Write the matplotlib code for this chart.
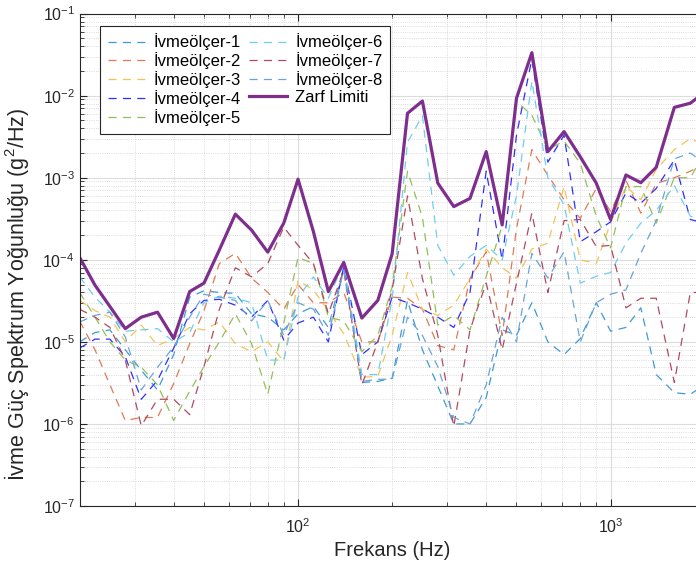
import matplotlib.pyplot as plt
from matplotlib.ticker import LogLocator, NullFormatter

# 1/6 octave frequency points (Hz)
freqs = [20, 22.4, 25, 28, 31.5, 35.5, 40, 45, 50, 56, 63, 71, 80, 90, 100,
         112, 125, 140, 160, 180, 200, 224, 250, 280, 315, 355, 400, 450,
         500, 560, 630, 710, 800, 900, 1000, 1120, 1250, 1400, 1600, 1800, 2000]

ivme1 = [1.0e-5, 1.3e-5, 1.4e-5, 8e-6, 4.5e-6, 2.6e-6, 7e-6, 3.5e-5, 4.2e-5, 4.0e-5, 3.9e-5,
         2.2e-5, 2.0e-5, 1.4e-5, 2.2e-5, 2.7e-5, 1.5e-5, 8.0e-5, 3.2e-6, 3.3e-6, 3.6e-6,
         3.2e-5, 8e-6, 2.9e-6, 1.0e-6, 1.0e-6, 2.1e-6, 1.4e-5, 1.2e-5, 3.0e-5, 1.0e-5,
         7e-6, 1.1e-5, 3.0e-5, 1.35e-5, 1.5e-5, 2.6e-5, 4e-6, 2.4e-6, 2.3e-6, 3e-6]
ivme2 = [1.8e-5, 8e-6, 3e-6, 1.1e-6, 1.2e-6, 1.2e-6, 3.1e-6, 9.5e-6, 2.4e-5, 9e-5, 1.2e-4,
         6e-5, 4e-5, 2.5e-5, 5e-5, 3e-5, 3e-5, 4e-5, 1e-5, 1e-5, 3.5e-5,
         3.4e-5, 2.5e-5, 9e-6, 8e-6, 5.9e-5, 1.25e-4, 1.2e-5, 2.4e-4, 2.2e-3, 1.07e-3,
         5.4e-4, 3.2e-4, 7.4e-4, 3.9e-4, 9.3e-4, 3.7e-4, 8.5e-4, 1e-3, 1.2e-3, 1.5e-3]
ivme3 = [3.2e-5, 2.4e-5, 2e-5, 1e-5, 1.6e-5, 9e-6, 1.1e-5, 1.5e-5, 1.4e-5, 1.75e-5, 9.5e-6,
         7.6e-6, 1e-5, 5.8e-6, 5.6e-5, 4.3e-5, 2.4e-5, 1.26e-5, 3.7e-6, 3.8e-6, 1.2e-5,
         7e-5, 2.5e-5, 2.1e-5, 2.8e-5, 5.9e-5, 1.35e-4, 8e-5, 6e-5, 1.35e-4, 1.6e-4,
         7.8e-4, 1e-4, 9e-5, 2.8e-4, 7.8e-4, 5.4e-4, 1.26e-3, 2.2e-3, 3e-3, 2.5e-3]
ivme4 = [8.4e-6, 1.08e-5, 1.08e-5, 6.6e-6, 2e-6, 3.4e-6, 8.4e-6, 2.2e-5, 3.2e-5, 3.3e-5, 2.8e-5,
         2e-5, 3.2e-5, 1.05e-5, 1.7e-5, 2e-5, 1e-5, 8.3e-5, 7e-6, 1e-5, 3.5e-5,
         3e-5, 2.5e-5, 2e-5, 1.5e-5, 4e-5, 1.2e-3, 1e-4, 3.3e-3, 2.8e-2, 1.55e-3,
         3.3e-3, 1.66e-4, 2.2e-4, 2.9e-4, 6.5e-4, 4.9e-4, 7.4e-4, 1.65e-3, 3.1e-4, 2.8e-4]
ivme5 = [4e-5, 2e-5, 1e-5, 6e-6, 4.9e-6, 3e-6, 1.1e-6, 2.5e-6, 5e-6, 1e-5, 2.2e-5,
         9.5e-6, 2.3e-6, 1.7e-5, 1.07e-4, 9e-5, 2e-5, 1.8e-5, 7.6e-6, 1.2e-5, 4.7e-5,
         1.2e-3, 3.3e-4, 1.6e-5, 2.1e-5, 1.4e-5, 6.3e-5, 2.6e-4, 8.5e-3, 5.8e-3, 2.2e-3,
         2.8e-3, 1.5e-3, 3.4e-4, 1.4e-4, 7.8e-4, 7.8e-4, 2.8e-4, 1e-3, 1e-3, 2e-3]
ivme6 = [6.2e-5, 3.5e-5, 2.3e-5, 1.35e-5, 1.4e-5, 1.45e-5, 1e-5, 1.3e-5, 3e-5, 3.6e-5, 3.4e-5,
         3e-5, 6e-6, 6e-6, 3.5e-5, 6.2e-5, 3.4e-5, 9e-5, 4e-6, 4e-6, 3.3e-5,
         2.7e-3, 5.7e-3, 1.5e-4, 6.5e-5, 1.1e-4, 1.5e-4, 1e-4, 6e-4, 1.5e-2, 1e-3,
         4.7e-4, 5.2e-5, 6.3e-5, 7e-5, 1.6e-4, 2.8e-4, 4e-4, 8e-4, 3.4e-4, 3e-4]
ivme7 = [2.5e-5, 2e-5, 1.5e-5, 6e-6, 9.5e-7, 2e-6, 2e-6, 1.3e-6, 5e-6, 2.5e-5, 8e-5,
         6.2e-5, 9e-5, 2.5e-4, 1.5e-4, 9e-5, 2.2e-5, 7.4e-5, 3e-6, 1e-5, 4.3e-5,
         6e-4, 5.9e-5, 1.2e-5, 9.3e-7, 1.4e-5, 5.2e-5, 8e-6, 5.2e-5, 3.7e-4, 4e-5,
         3e-4, 3.1e-4, 1.45e-4, 1.5e-4, 2.6e-5, 3.4e-5, 3.4e-5, 3.2e-6, 4e-5, 4e-5]
ivme8 = [1.75e-5, 2.1e-5, 2.3e-5, 1.15e-5, 2.6e-6, 4.9e-6, 8.7e-6, 2e-5, 3.8e-5, 3.5e-5, 3.2e-5,
         1.8e-5, 3.2e-5, 1.2e-5, 3e-5, 2.5e-5, 1.2e-5, 7.5e-5, 3.3e-6, 3.5e-6, 3.5e-6,
         2e-5, 1.2e-5, 5e-6, 1.2e-6, 1e-6, 3e-6, 2e-5, 1e-5, 1.2e-4, 6e-5,
         1.25e-4, 1e-5, 3e-5, 3.8e-5, 4.3e-5, 1.2e-4, 3e-4, 1.7e-3, 2e-3, 1.5e-3]
zarf = [1.07e-4, 4.9e-5, 2.7e-5, 1.45e-5, 2.0e-5, 2.3e-5, 1.1e-5, 4.1e-5, 5.2e-5, 1.32e-4, 3.6e-4,
        2.3e-4, 1.24e-4, 2.8e-4, 9.6e-4, 2.2e-4, 4.1e-5, 9.3e-5, 1.95e-5, 3.2e-5, 1.18e-4,
        6.1e-3, 8.6e-3, 8.6e-4, 4.45e-4, 5.6e-4, 2.08e-3, 2.66e-4, 9.3e-3, 3.34e-2, 2.08e-3,
        3.65e-3, 1.8e-3, 8.6e-4, 3.1e-4, 1.08e-3, 8.7e-4, 1.34e-3, 7.2e-3, 8.1e-3, 1.1e-2]

sensor_names = ['İvmeölçer-1', 'İvmeölçer-2', 'İvmeölçer-3', 'İvmeölçer-4',
                'İvmeölçer-5', 'İvmeölçer-6', 'İvmeölçer-7', 'İvmeölçer-8']
sensor_colors = ['#3e9ad6', '#e07a55', '#f2c35a', '#2f2fff',
                 '#93bf5a', '#6fcdf0', '#b04a60', '#6aa3d8']


def draw_psd():
    """Draws the PSD curves of all accelerometers and the envelope limit."""
    plt.rcParams['font.family'] = ['Liberation Sans', 'DejaVu Sans']
    plt.rcParams['mathtext.fontset'] = 'custom'
    plt.rcParams['mathtext.rm'] = 'Liberation Sans'

    fig = plt.figure(figsize=(6.96, 5.69), dpi=100)
    ax = fig.add_axes([0.1144, 0.1107, 0.898, 0.8654])

    series = [ivme1, ivme2, ivme3, ivme4, ivme5, ivme6, ivme7, ivme8]
    for values, name, color in zip(series, sensor_names, sensor_colors):
        ax.plot(freqs, values, color=color, lw=0.9, dashes=(6.5, 5), label=name)
    ax.plot(freqs, zarf, color='#7e2f8e', lw=2.3, label='Zarf Limiti')

    ax.set_xscale('log')
    ax.set_yscale('log')
    ax.set_xlim(20, 2000)
    ax.set_ylim(1e-7, 1e-1)

    ax.xaxis.set_minor_locator(LogLocator(base=10, subs=range(2, 10)))
    ax.yaxis.set_minor_locator(LogLocator(base=10, subs=range(2, 10)))
    ax.xaxis.set_minor_formatter(NullFormatter())
    ax.yaxis.set_minor_formatter(NullFormatter())
    ax.tick_params(which='both', direction='in', top=True, right=True,
                   colors='#262626', labelsize=11.5)
    ax.tick_params(which='major', length=5)
    ax.tick_params(which='minor', length=3)
    ax.tick_params(axis='x', which='major', pad=8)

    ax.grid(True, which='major', color='#dcdcdc', lw=0.8)
    ax.grid(True, which='minor', color='#d0d0d0', lw=0.6, linestyle=':')
    ax.set_axisbelow(True)
    for spine in ax.spines.values():
        spine.set_color('#262626')
        spine.set_linewidth(0.8)

    ax.set_xlabel('Frekans (Hz)', fontsize=14.5, color='#262626')
    ax.set_ylabel('İvme Güç Spektrum Yoğunluğu (g$^{2}$/Hz)', fontsize=15.5,
                  color='#262626')
    ax.xaxis.set_label_coords(0.5, -0.072)
    ax.yaxis.set_label_coords(-0.078, 0.43)

    leg = ax.legend(loc='upper left', bbox_to_anchor=(0.033, 0.975), ncol=2,
                    fontsize=12, frameon=True, fancybox=False, framealpha=1,
                    edgecolor='#262626', borderaxespad=0, handlelength=2.25,
                    columnspacing=0.5, labelspacing=0.12, handletextpad=0.5,
                    borderpad=0.45)
    leg.get_frame().set_linewidth(0.8)

    fig.savefig('out.png', dpi=100)


if __name__ == "__main__":
    draw_psd()
